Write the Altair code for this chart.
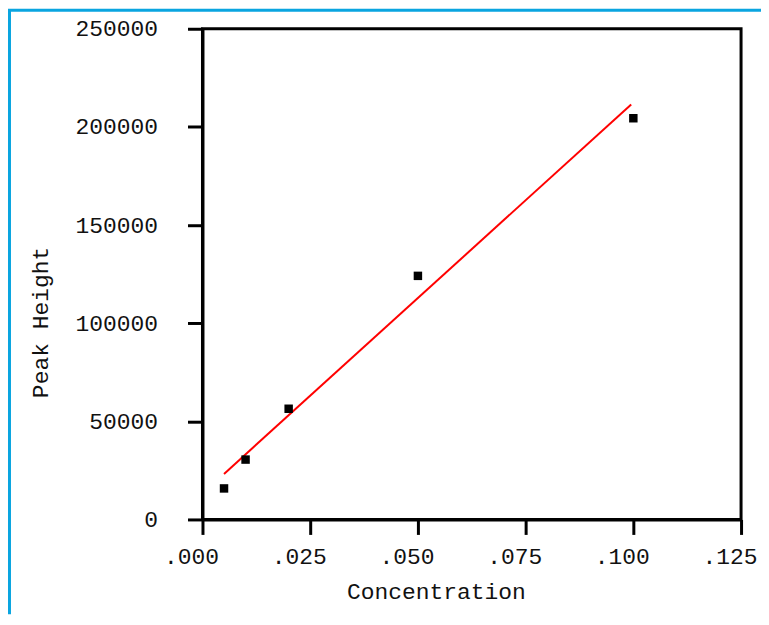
import altair as alt
import pandas as pd

# Data
conc = [0.005, 0.010, 0.020, 0.050, 0.100]
peak = [15800, 30500, 56400, 124100, 204400]

fit_x = [0.005, 0.0995]
fit_y = [23200, 211400]

x_ticks = [0, 0.025, 0.05, 0.075, 0.1, 0.125]
y_ticks = [0, 50000, 100000, 150000, 200000, 250000]

FONT = "Liberation Mono"
FS = 23
TXT = "#111111"

pts = pd.DataFrame({"Concentration": conc, "Peak Height": peak})
fit = pd.DataFrame({"Concentration": fit_x, "Peak Height": fit_y})
xt = pd.DataFrame({"Concentration": x_ticks})

x_scale = alt.Scale(domain=[0, 0.125], nice=False, zero=False)

x_enc = alt.X(
    "Concentration:Q",
    scale=x_scale,
    axis=alt.Axis(
        values=x_ticks,
        labels=False,
        title="Concentration",
        titleX=234,
        titleY=79,
        titleBaseline="alphabetic",
        titleAlign="center",
    ),
)
y_enc = alt.Y(
    "Peak Height:Q",
    scale=alt.Scale(domain=[0, 250000], nice=False),
    axis=alt.Axis(
        values=y_ticks,
        format="d",
        title="Peak Height",
        titleX=-155,
        titleY=294,
        titleAngle=-90,
        titleAlign="center",
        titleBaseline="alphabetic",
        labelAlign="right",
        labelBaseline="middle",
        labelPadding=30,
        labelFlush=False,
        labelOverlap=False,
    ),
)

line = alt.Chart(fit).mark_line(color="#ff0000", strokeWidth=2).encode(x=x_enc, y=y_enc)
points = alt.Chart(pts).mark_square(size=72, color="black", opacity=1, filled=True).encode(
    x="Concentration:Q", y="Peak Height:Q"
)

xlabels = (
    alt.Chart(xt)
    .transform_calculate(lab="substring(format(datum.Concentration, '.3f'), 1)")
    .mark_text(font=FONT, fontSize=FS, color=TXT, align="center", baseline="alphabetic", dx=-11)
    .encode(x="Concentration:Q", y=alt.value(537), text="lab:N")
)

dummy = pd.DataFrame({"a": [0]})
blue_v = alt.Chart(dummy).mark_rule(color="#0aa5e0", strokeWidth=3).encode(
    x=alt.value(-193.5), y=alt.value(-19), y2=alt.value(587)
)
blue_h = alt.Chart(dummy).mark_rule(color="#0aa5e0", strokeWidth=3).encode(
    x=alt.value(-195), x2=alt.value(560), y=alt.value(-18.5)
)

chart = (
    alt.layer(line, points, xlabels, blue_v, blue_h)
    .properties(
        width=540,
        height=492,
        padding={"left": 195, "top": 20, "right": 20, "bottom": 95},
        autosize=alt.AutoSizeParams(type="none"),
        background="white",
    )
    .configure_view(stroke="black", strokeWidth=3)
    .configure_axis(
        grid=False,
        domainColor="black",
        domainWidth=3,
        tickColor="black",
        tickWidth=3,
        tickSize=15,
        labelFont=FONT,
        labelFontSize=FS,
        labelColor=TXT,
        titleFont=FONT,
        titleFontSize=FS,
        titleFontWeight="normal",
        titleColor=TXT,
    )
)

chart.save("out.html", embed_options={"renderer": "svg", "actions": False})
